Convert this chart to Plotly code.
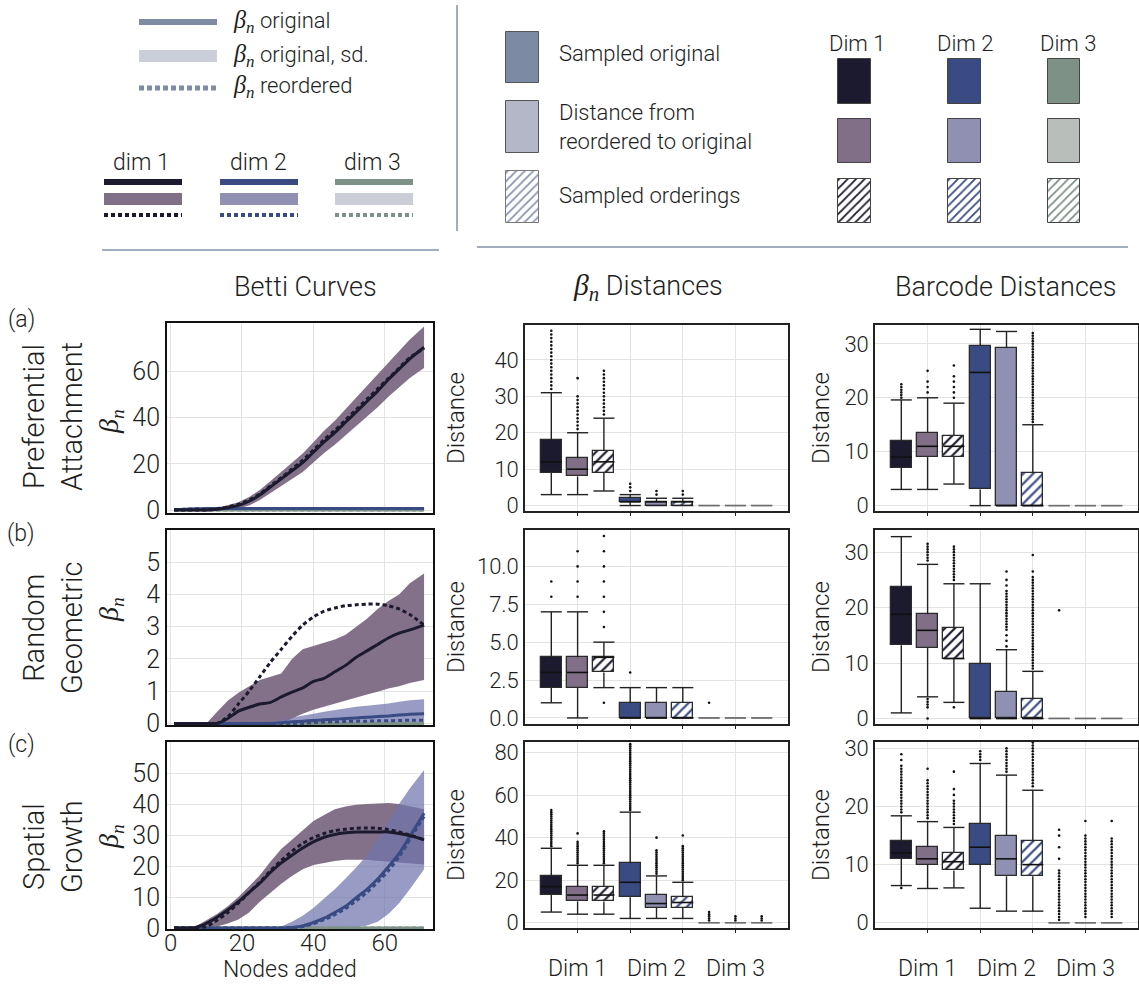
import plotly.graph_objects as go

W, H = 1139, 984
SANS = "Roboto"
WEIGHT = 300
BETA = "<span style='font-family:Liberation Serif;font-size:110%'><i>β<sub>n</sub></i></span>"

# ---------------------------------------------------------------- palette
DIM_LINE = ["#1c1a2e", "#394b82", "#7d9186"]
DIM_FILL = ["#806f86", "#8f90b2", "#b8beb9"]
BAND_FILL = ["rgba(127,108,134,0.97)", "rgba(112,116,172,0.72)", "rgba(203,206,214,0.9)"]
GRID = "#e3e3e3"

# ---------------------------------------------------------------- Betti curves
NODES = [1, 4, 7, 10, 13, 16, 19, 22, 25, 28, 31, 34, 37, 40, 43, 46, 49, 52, 55, 58, 61, 64, 67, 71]

# (a) preferential attachment
PA_D1_MEAN = [0, 0, 0, 0, 0.3, 1, 2, 3.8, 6.5, 10, 13.5, 17, 20.5, 25, 29.5, 33.5, 38, 42.5, 47, 51.5, 56.5, 61, 65.5, 70.5]
PA_D1_REORD = [0, 0, 0, 0, 0.4, 1.3, 2.5, 4.3, 7, 10.5, 14, 17.8, 21.5, 26, 30.5, 34.5, 39, 43.5, 48, 52.5, 57, 61.5, 66, 70]
PA_D1_LO = [0, 0, 0, 0, 0, 0, 0.6, 2, 4.3, 7.4, 10.5, 13.5, 16.5, 20.6, 24.7, 28.3, 32.3, 36.4, 40.5, 44.5, 49.1, 53.2, 57.2, 61.5]
PA_D1_HI = [0, 0, 0, 0.2, 0.9, 2, 3.4, 5.6, 8.7, 12.6, 16.5, 20.5, 24.5, 29.4, 34.3, 38.7, 43.7, 48.6, 53.5, 58.5, 63.9, 68.8, 73.8, 79.5]
PA_D2_MEAN = [0.1, 0.3, 0.5, 0.6, 0.7, 0.7, 0.7, 0.7, 0.7, 0.7, 0.7, 0.7, 0.7, 0.7, 0.7, 0.7, 0.7, 0.7, 0.7, 0.7, 0.7, 0.7, 0.7, 0.7]
PA_D2_REORD = [0.1, 0.3, 0.5, 0.6, 0.7, 0.7, 0.7, 0.7, 0.7, 0.7, 0.7, 0.7, 0.7, 0.7, 0.7, 0.7, 0.7, 0.7, 0.7, 0.7, 0.7, 0.7, 0.7, 0.7]
PA_D2_LO = [0, 0.1, 0.2, 0.3, 0.4, 0.4, 0.4, 0.4, 0.4, 0.4, 0.4, 0.4, 0.4, 0.4, 0.4, 0.4, 0.4, 0.4, 0.4, 0.4, 0.4, 0.4, 0.4, 0.4]
PA_D2_HI = [0.2, 0.5, 0.8, 0.9, 1.0, 1.0, 1.0, 1.0, 1.0, 1.0, 1.0, 1.0, 1.0, 1.0, 1.0, 1.0, 1.0, 1.0, 1.0, 1.0, 1.0, 1.0, 1.0, 1.0]
PA_D3 = [0, 0, 0, 0, 0, 0, 0, 0, 0, 0, 0, 0, 0, 0, 0, 0, 0, 0, 0, 0, 0, 0, 0, 0]

# (b) random geometric
RG_D1_MEAN = [0, 0, 0, 0, 0, 0.15, 0.38, 0.5, 0.6, 0.65, 0.82, 0.97, 1.1, 1.3, 1.4, 1.6, 1.8, 2.05, 2.25, 2.45, 2.65, 2.8, 2.9, 3.05]
RG_D1_REORD = [0, 0, 0, 0, 0, 0.2, 0.6, 1.0, 1.45, 1.9, 2.3, 2.7, 3.05, 3.3, 3.48, 3.58, 3.65, 3.68, 3.7, 3.7, 3.65, 3.55, 3.38, 3.05]
RG_D1_LO = [0, 0, 0, 0, 0, 0, 0, 0, 0, 0, 0, 0.15, 0.3, 0.42, 0.52, 0.62, 0.72, 0.8, 0.9, 0.98, 1.08, 1.15, 1.25, 1.35]
RG_D1_HI = [0, 0, 0, 0, 0.35, 0.7, 0.95, 1.15, 1.35, 1.45, 1.55, 2.0, 2.3, 2.4, 2.5, 2.6, 2.75, 3.0, 3.25, 3.55, 3.8, 4.0, 4.35, 4.65]
RG_D2_MEAN = [0, 0, 0, 0, 0, 0, 0, 0, 0, 0, 0.02, 0.05, 0.07, 0.09, 0.11, 0.13, 0.15, 0.17, 0.19, 0.21, 0.23, 0.26, 0.28, 0.3]
RG_D2_REORD = [0, 0, 0, 0, 0, 0, 0, 0, 0, 0, 0, 0, 0, 0.03, 0.04, 0.05, 0.06, 0.07, 0.07, 0.08, 0.08, 0.09, 0.1, 0.1]
RG_D2_LO = [0, 0, 0, 0, 0, 0, 0, 0, 0, 0, 0, 0, 0, 0, 0, 0, 0, 0, 0, 0, 0, 0, 0, 0]
RG_D2_HI = [0, 0, 0, 0, 0, 0, 0, 0, 0, 0.05, 0.1, 0.18, 0.25, 0.3, 0.36, 0.42, 0.48, 0.52, 0.55, 0.58, 0.62, 0.67, 0.72, 0.75]
RG_D3 = [0, 0, 0, 0, 0, 0, 0, 0, 0, 0, 0, 0, 0, 0, 0, 0, 0, 0, 0, 0, 0, 0, 0, 0]

# (c) spatial growth
SG_D1_MEAN = [0, 0, 0.2, 1.5, 3.5, 5.8, 8.5, 11.5, 14.5, 18, 21, 23.5, 25.8, 27.8, 29.3, 30.2, 30.7, 31, 31, 31, 31, 30.5, 29.8, 28.5]
SG_D1_REORD = [0, 0, 0, 0.5, 2.5, 5, 8, 11.5, 14.8, 18.5, 21.8, 24.8, 27.3, 29.2, 30.5, 31.4, 31.9, 32.2, 32.3, 32.2, 31.8, 31, 30, 28.5]
SG_D1_LO = [0, 0, 0, 0, 0.5, 1.5, 2.8, 5, 8.5, 11.5, 14.3, 16.8, 19, 20.3, 21, 21.6, 22, 22, 22, 21.7, 21.4, 21.1, 20.8, 20.5]
SG_D1_HI = [0, 0, 0.5, 2.5, 4.5, 7, 10, 13.5, 17, 21.5, 25.5, 28.5, 31.5, 34.5, 36.5, 38.3, 39.2, 39.8, 40, 40.2, 40.3, 40, 39.2, 38.3]
SG_D2_MEAN = [0, 0, 0, 0, 0, 0, 0, 0, 0, 0, 0, 0.2, 0.7, 1.8, 3.2, 5, 7, 9.8, 12.5, 15.8, 19.8, 24, 29.5, 37]
SG_D2_REORD = [0, 0, 0, 0, 0, 0, 0, 0, 0, 0, 0, 0.1, 0.5, 1.4, 2.7, 4.3, 6.3, 8.8, 11.5, 14.8, 18.5, 23, 28.5, 36]
SG_D2_LO = [0, 0, 0, 0, 0, 0, 0, 0, 0, 0, 0, 0, 0, 0, 0, 0, 0, 0.2, 0.8, 2, 4.5, 8, 12.5, 19]
SG_D2_HI = [0, 0, 0, 0, 0, 0, 0, 0, 0, 0, 0.5, 2, 4, 6.5, 9.5, 12.5, 16, 19.5, 23.5, 29, 34.5, 40, 45, 51]
SG_D3 = [0, 0, 0, 0, 0, 0, 0, 0, 0, 0, 0, 0, 0, 0, 0, 0, 0, 0, 0, 0, 0, 0, 0, 0]

# ---------------------------------------------------------------- box statistics
# slots: dim1 original, dim1 reordered-vs-original, dim1 sampled orderings, then dim2, dim3
DIM_LABELS = ["Dim 1", "Dim 2", "Dim 3"]
DIM_LABEL_SLOT = [2, 5, 8]

# beta_n distances
BD_A_Q1 = [9, 8, 9, 1, 0, 0, 0, 0, 0]
BD_A_MED = [12, 10, 12, 1, 1, 1, 0, 0, 0]
BD_A_Q3 = [18, 13, 15, 2, 1, 1, 0, 0, 0]
BD_A_LO = [3, 3, 4, 0, 0, 0, 0, 0, 0]
BD_A_HI = [31, 20, 24, 3, 2, 2, 0, 0, 0]
BD_A_OUT = [
    [32, 33, 34, 35, 36, 37, 38, 39, 40, 41, 42, 43, 44, 45, 46, 47, 48],
    [21, 22, 23, 24, 25, 26, 27, 28, 29, 30, 35],
    [25, 26, 27, 28, 29, 30, 31, 32, 33, 34, 35, 36, 37],
    [4, 5, 6], [3, 4], [3, 4], [], [], [],
]

BD_B_Q1 = [2, 2, 3, 0, 0, 0, 0, 0, 0]
BD_B_MED = [3, 3, 4, 0, 0, 0, 0, 0, 0]
BD_B_Q3 = [4, 4, 4, 1, 1, 1, 0, 0, 0]
BD_B_LO = [1, 0, 2, 0, 0, 0, 0, 0, 0]
BD_B_HI = [7, 7, 5, 2, 2, 2, 0, 0, 0]
BD_B_OUT = [
    [8, 9], [8, 9, 10, 11], [1, 6, 7, 8, 9, 10, 11, 12],
    [3], [], [], [1], [], [],
]

BD_C_Q1 = [13, 10, 10, 12, 7, 7, 0, 0, 0]
BD_C_MED = [17, 13, 13, 19, 9, 9.5, 0, 0, 0]
BD_C_Q3 = [22, 17, 17, 28, 13, 12, 0, 0, 0]
BD_C_LO = [5, 4, 4, 2, 2, 2, 0, 0, 0]
BD_C_HI = [35, 27, 27, 52, 22, 19, 0, 0, 0]
BD_C_OUT = [
    [36, 37, 38, 39, 40, 41, 42, 43, 44, 45, 46, 47, 48, 49, 50, 51, 52, 53],
    [28, 29, 30, 31, 32, 33, 34, 35, 36, 37, 38, 42],
    [28, 29, 30, 31, 32, 33, 34, 35, 36, 37, 38, 39, 40, 41, 42, 43],
    [53, 54, 55, 56, 57, 58, 59, 60, 61, 62, 63, 64, 65, 66, 67, 68, 69, 70, 71, 72, 73, 74, 75, 76, 77, 78, 79, 80, 81, 82, 83, 84],
    [23, 24, 25, 26, 27, 28, 29, 30, 31, 32, 33, 34, 40],
    [20, 21, 22, 23, 24, 25, 26, 27, 28, 29, 30, 31, 32, 33, 34, 35, 36, 41],
    [1, 2, 3, 4, 5], [1, 2, 3], [1, 2, 3],
]

# barcode distances
BC_A_Q1 = [7, 9, 9, 3, 0, 0, 0, 0, 0]
BC_A_MED = [9, 11, 11, 24.7, 0, 0, 0, 0, 0]
BC_A_Q3 = [12, 13.5, 13, 29.6, 29.2, 6, 0, 0, 0]
BC_A_LO = [3, 3, 4, 0, 0, 0, 0, 0, 0]
BC_A_HI = [19.6, 20, 19, 32.7, 32.3, 15, 0, 0, 0]
BC_A_OUT = [
    [20, 20.5, 21, 21.5, 22, 22.5],
    [21, 22, 23, 25],
    [20, 21, 22, 23, 24, 26],
    [], [],
    [15.5, 16, 16.5, 17, 17.5, 18, 18.5, 19, 19.5, 20, 20.5, 21, 21.5, 22, 22.5, 23, 23.5, 24, 24.5,
     25, 25.5, 26, 26.5, 27, 27.5, 28, 28.5, 29, 29.5, 30, 30.5, 31, 31.5, 32],
    [], [], [],
]

BC_B_Q1 = [13.2, 12.8, 10.8, 0, 0, 0, 0, 0, 0]
BC_B_MED = [18.8, 15.9, 10.8, 0, 0, 0, 0, 0, 0]
BC_B_Q3 = [23.8, 18.8, 16.3, 9.8, 4.8, 3.6, 0, 0, 0]
BC_B_LO = [1, 3.9, 2.9, 0, 0, 0, 0, 0, 0]
BC_B_HI = [32.8, 27.8, 24.3, 24.3, 12.4, 8.5, 0, 0, 0]
BC_B_OUT = [
    [],
    [28.5, 29, 29.5, 30, 30.5, 31, 31.5, 3.5, 3, 2.5, 2, 0],
    [25, 25.5, 26, 26.5, 27, 27.5, 28, 28.5, 29, 29.5, 30, 30.5, 31, 2],
    [],
    [13, 14, 15, 16, 16.5, 17, 17.5, 18, 18.5, 19, 19.5, 20, 20.5, 21, 21.5, 22, 22.5, 23, 24, 25, 26.5],
    [9, 9.5, 10, 10.5, 11, 11.5, 12, 12.5, 13, 13.5, 14, 14.5, 15, 15.5, 16, 16.5, 17, 17.5, 18, 18.5,
     19, 19.5, 20, 20.5, 21, 21.5, 22, 22.5, 23, 23.5, 24, 24.5, 25, 25.5, 26.5, 29.5],
    [19.5], [], [],
]

BC_C_Q1 = [11, 10, 9, 10, 8, 8, 0, 0, 0]
BC_C_MED = [12, 11, 10.5, 13, 11, 10, 0, 0, 0]
BC_C_Q3 = [14, 13, 12, 17, 15, 14, 0, 0, 0]
BC_C_LO = [6.4, 5.9, 6, 2.5, 2, 2, 0, 0, 0]
BC_C_HI = [18.4, 17.4, 16.4, 27.4, 25.4, 22.8, 0, 0, 0]
BC_C_OUT = [
    [6, 19, 19.5, 20, 20.5, 21, 21.5, 22, 22.5, 23, 23.5, 24, 24.5, 25, 25.5, 26, 26.5, 27, 28, 29],
    [18, 18.5, 19, 19.5, 20, 20.5, 21, 21.5, 22, 22.5, 23, 23.5, 24, 24.5, 26.5],
    [17, 17.5, 18, 18.5, 19, 19.5, 20, 20.5, 21, 22, 23, 26],
    [28, 28.5, 29, 29.5],
    [26, 26.5, 27, 27.5, 28, 28.5, 29, 29.5, 30],
    [23.5, 24, 24.5, 25, 25.5, 26, 26.5, 27, 27.5, 28, 28.5, 29, 29.5, 30, 30.5, 31],
    [0.5, 1, 1.5, 2, 2.5, 3, 3.5, 4, 4.5, 5, 5.5, 6, 6.5, 7, 7.5, 8, 8.5, 9, 11, 13, 15, 16],
    [1, 1.5, 2, 2.5, 3, 3.5, 4, 4.5, 5, 5.5, 6, 6.5, 7, 7.5, 8, 8.5, 9, 9.5, 10, 10.5, 11, 11.5, 12,
     12.5, 13, 13.5, 14, 14.5, 15, 17.5],
    [1, 1.5, 2, 2.5, 3, 3.5, 4, 4.5, 5, 5.5, 6, 6.5, 7, 7.5, 8, 8.5, 9, 9.5, 10, 10.5, 11, 11.5, 12,
     12.5, 13, 13.5, 14, 14.5, 17.5],
]

ROW_NAMES = ["Preferential<br>Attachment", "Random<br>Geometric", "Spatial<br>Growth"]
ROW_TAGS = ["(a)", "(b)", "(c)"]

# ---------------------------------------------------------------- panel geometry (pixels)
BETTI_X = (167, 433)
MID_X = (525, 788)
RIGHT_X = (875, 1138)
BETTI_ROWS_PX = [(323, 513), (530, 725), (742, 929)]
BOX_ROWS_PX = [(325, 511), (530, 724), (742, 928)]


def xdom(px):
    return [px[0] / W, px[1] / W]


def ydom(px):
    return [1 - px[1] / H, 1 - px[0] / H]


betti_panels = [
    dict(mean=[PA_D1_MEAN, PA_D2_MEAN, PA_D3], reord=[PA_D1_REORD, PA_D2_REORD, PA_D3],
         lo=[PA_D1_LO, PA_D2_LO, PA_D3], hi=[PA_D1_HI, PA_D2_HI, PA_D3],
         yrange=[-1.3, 81], ticks=[0, 20, 40, 60]),
    dict(mean=[RG_D1_MEAN, RG_D2_MEAN, RG_D3], reord=[RG_D1_REORD, RG_D2_REORD, RG_D3],
         lo=[RG_D1_LO, RG_D2_LO, RG_D3], hi=[RG_D1_HI, RG_D2_HI, RG_D3],
         yrange=[-0.05, 6.0], ticks=[0, 1, 2, 3, 4, 5]),
    dict(mean=[SG_D1_MEAN, SG_D2_MEAN, SG_D3], reord=[SG_D1_REORD, SG_D2_REORD, SG_D3],
         lo=[SG_D1_LO, SG_D2_LO, SG_D3], hi=[SG_D1_HI, SG_D2_HI, SG_D3],
         yrange=[-0.3, 60], ticks=[0, 10, 20, 30, 40, 50]),
]

mid_panels = [
    dict(q1=BD_A_Q1, med=BD_A_MED, q3=BD_A_Q3, lo=BD_A_LO, hi=BD_A_HI, out=BD_A_OUT,
         yrange=[-1.5, 49.6], ticks=[0, 10, 20, 30, 40], fmt=""),
    dict(q1=BD_B_Q1, med=BD_B_MED, q3=BD_B_Q3, lo=BD_B_LO, hi=BD_B_HI, out=BD_B_OUT,
         yrange=[-0.4, 12.4], ticks=[0, 2.5, 5, 7.5, 10], fmt=".1f"),
    dict(q1=BD_C_Q1, med=BD_C_MED, q3=BD_C_Q3, lo=BD_C_LO, hi=BD_C_HI, out=BD_C_OUT,
         yrange=[-2.5, 85], ticks=[0, 20, 40, 60, 80], fmt=""),
]
right_panels = [
    dict(q1=BC_A_Q1, med=BC_A_MED, q3=BC_A_Q3, lo=BC_A_LO, hi=BC_A_HI, out=BC_A_OUT,
         yrange=[-1, 33.5], ticks=[0, 10, 20, 30], fmt=""),
    dict(q1=BC_B_Q1, med=BC_B_MED, q3=BC_B_Q3, lo=BC_B_LO, hi=BC_B_HI, out=BC_B_OUT,
         yrange=[-1, 34], ticks=[0, 10, 20, 30], fmt=""),
    dict(q1=BC_C_Q1, med=BC_C_MED, q3=BC_C_Q3, lo=BC_C_LO, hi=BC_C_HI, out=BC_C_OUT,
         yrange=[-0.9, 31.1], ticks=[0, 10, 20, 30], fmt=""),
]

SLOT_COLOR = [DIM_LINE[0], DIM_FILL[0], "white", DIM_LINE[1], DIM_FILL[1], "white",
              DIM_LINE[2], DIM_FILL[2], "white"]
SLOT_HATCH = [None, None, DIM_LINE[0], None, None, DIM_LINE[1], None, None, DIM_LINE[2]]

fig = go.Figure()
layout_axes = {}


def axis_names(idx):
    s = "" if idx == 1 else str(idx)
    return "x" + s, "y" + s, "xaxis" + s, "yaxis" + s


def tfont(size):
    return dict(size=size, family=SANS, color="#1e1e1e", weight=WEIGHT)


# ---------------------------------------------------------------- Betti curve panels
for r, panel in enumerate(betti_panels):
    idx = r * 3 + 1
    xa, ya, xk, yk = axis_names(idx)
    for d in range(3):
        fig.add_trace(go.Scatter(x=NODES, y=panel["lo"][d], mode="lines", line=dict(width=0),
                                 xaxis=xa, yaxis=ya, hoverinfo="skip"))
        fig.add_trace(go.Scatter(x=NODES, y=panel["hi"][d], mode="lines", line=dict(width=0),
                                 fill="tonexty", fillcolor=BAND_FILL[d],
                                 xaxis=xa, yaxis=ya, hoverinfo="skip"))
    for d in (2, 1, 0):
        fig.add_trace(go.Scatter(x=NODES, y=panel["mean"][d], mode="lines",
                                 line=dict(color=DIM_LINE[d], width=3, shape="spline", smoothing=0.6),
                                 xaxis=xa, yaxis=ya, hoverinfo="skip"))
        fig.add_trace(go.Scatter(x=NODES, y=panel["reord"][d], mode="lines",
                                 line=dict(color=DIM_LINE[d], width=3, dash="4px,3px",
                                           shape="spline", smoothing=0.6),
                                 xaxis=xa, yaxis=ya, hoverinfo="skip"))
    layout_axes[xk] = dict(domain=xdom(BETTI_X), anchor=ya, range=[-1, 73.5],
                           tickvals=[0, 20, 40, 60], showticklabels=(r == 2),
                           showgrid=True, gridcolor=GRID, zeroline=False, automargin=False,
                           showline=True, mirror=True, linecolor="#111", linewidth=2,
                           tickfont=tfont(24), ticks="", ticklabelstandoff=-9)
    layout_axes[yk] = dict(domain=ydom(BETTI_ROWS_PX[r]), anchor=xa, range=panel["yrange"],
                           tickvals=panel["ticks"], showgrid=True, gridcolor=GRID, zeroline=False,
                           showline=True, mirror=True, linecolor="#111", linewidth=2,
                           automargin=False, tickfont=tfont(25), ticks="")


# ---------------------------------------------------------------- box panels
def add_boxes(panel, xa, ya):
    half = 0.4
    out_x, out_y = [], []
    for i in range(9):
        pos = i + 1
        q1, med, q3 = panel["q1"][i], panel["med"][i], panel["q3"][i]
        lo, hi = panel["lo"][i], panel["hi"][i]
        flat = (q3 == q1 and hi == lo)
        if q3 > q1:
            if SLOT_HATCH[i]:
                marker = dict(color="white", line=dict(color="#2b2b2b", width=1.3),
                              pattern=dict(shape="/", fgcolor=SLOT_HATCH[i], bgcolor="white",
                                           size=7, solidity=0.32, fillmode="replace"))
            else:
                marker = dict(color=SLOT_COLOR[i], line=dict(color="#2b2b2b", width=1.3))
            fig.add_trace(go.Bar(x=[pos], y=[q3 - q1], base=[q1], width=0.8, marker=marker,
                                 xaxis=xa, yaxis=ya, hoverinfo="skip"))
        wx = [pos, pos, None, pos, pos, None, pos - half, pos + half, None, pos - half, pos + half]
        wy = [lo, q1, None, q3, hi, None, lo, lo, None, hi, hi]
        fig.add_trace(go.Scatter(x=wx, y=wy, mode="lines",
                                 line=dict(color="#6e6e6e" if flat else "#222", width=1.4),
                                 xaxis=xa, yaxis=ya, hoverinfo="skip", cliponaxis=False))
        if not flat:
            fig.add_trace(go.Scatter(x=[pos - half, pos + half], y=[med, med], mode="lines",
                                     line=dict(color="#111", width=1.6),
                                     xaxis=xa, yaxis=ya, hoverinfo="skip"))
        out_x += [pos] * len(panel["out"][i])
        out_y += panel["out"][i]
    fig.add_trace(go.Scatter(x=out_x, y=out_y, mode="markers",
                             marker=dict(color="#111", size=2.6, line=dict(width=0)),
                             xaxis=xa, yaxis=ya, hoverinfo="skip"))


for c, (panels, xpx) in enumerate([(mid_panels, MID_X), (right_panels, RIGHT_X)]):
    for r, panel in enumerate(panels):
        idx = r * 3 + c + 2
        xa, ya, xk, yk = axis_names(idx)
        add_boxes(panel, xa, ya)
        layout_axes[xk] = dict(domain=xdom(xpx), anchor=ya, range=[0, 10],
                               tickvals=[2, 4, 6, 8], showticklabels=False,
                               showgrid=True, gridcolor=GRID, zeroline=False, automargin=False,
                               showline=True, mirror=True, linecolor="#222", linewidth=1.6,
                               ticks="outside", ticklen=3, tickcolor="#222")
        layout_axes[yk] = dict(domain=ydom(BOX_ROWS_PX[r]), anchor=xa, range=panel["yrange"],
                               tickvals=panel["ticks"], tickformat=panel["fmt"],
                               showgrid=True, gridcolor=GRID, zeroline=False, automargin=False,
                               showline=True, mirror=True, linecolor="#222", linewidth=1.6,
                               tickfont=tfont(22), ticks="")

# ---------------------------------------------------------------- header key (pixel overlay axis)
layout_axes["xaxis10"] = dict(domain=[0, 1], range=[0, W], visible=False, anchor="y10",
                              fixedrange=True, automargin=False)
layout_axes["yaxis10"] = dict(domain=[0, 1], range=[H, 0], visible=False, anchor="x10",
                              fixedrange=True, automargin=False)

KEY_SWATCH_X = [(838, 871), (948, 981), (1048, 1080)]
KEY_SWATCH_Y = [(59, 104), (119, 163), (179, 223)]
for d in range(3):
    x0, x1 = KEY_SWATCH_X[d]
    fills = [DIM_LINE[d], DIM_FILL[d], None]
    for k in range(3):
        y0, y1 = KEY_SWATCH_Y[k]
        if fills[k]:
            marker = dict(color=fills[k], line=dict(color="#444", width=1))
        else:
            marker = dict(color="white", line=dict(color="#444", width=1),
                          pattern=dict(shape="/", fgcolor=DIM_LINE[d], bgcolor="white",
                                       size=6, solidity=0.3, fillmode="replace"))
        fig.add_trace(go.Bar(x=[(x0 + x1) / 2], y=[y1 - y0], base=[y0], width=x1 - x0,
                             marker=marker, xaxis="x10", yaxis="y10", hoverinfo="skip"))

KEY_KIND_Y = [(32, 83), (101, 153), (171, 223)]
KEY_KIND_FILL = ["#7d8aa3", "#b3b7c8", None]
for k in range(3):
    y0, y1 = KEY_KIND_Y[k]
    if KEY_KIND_FILL[k]:
        marker = dict(color=KEY_KIND_FILL[k], line=dict(color="#555", width=1))
    else:
        marker = dict(color="white", line=dict(color="#777", width=1),
                      pattern=dict(shape="/", fgcolor="#8a94b0", bgcolor="white",
                                   size=6, solidity=0.3, fillmode="replace"))
    fig.add_trace(go.Bar(x=[522], y=[y1 - y0], base=[y0], width=33, marker=marker,
                         xaxis="x10", yaxis="y10", hoverinfo="skip"))

shapes = []


def seg(x0, x1, y, color, width, dash="solid"):
    shapes.append(dict(type="line", xref="x10", yref="y10", x0=x0, x1=x1, y0=y, y1=y,
                       line=dict(color=color, width=width, dash=dash)))


seg(139, 217, 22, "#7f8aa3", 6)
seg(139, 217, 56, "#cbced8", 12)
seg(139, 217, 88, "#7f8aa3", 5, "5px,3px")
KEY_LINE_X = [(104, 182), (220, 298), (335, 413)]
KEY_SD = ["#806f86", "#8f90b2", "#cbced6"]
for d in range(3):
    x0, x1 = KEY_LINE_X[d]
    seg(x0, x1, 182, DIM_LINE[d], 6)
    seg(x0, x1, 199, KEY_SD[d], 12)
    seg(x0, x1, 215, DIM_LINE[d], 4, "4px,3px")
seg(102, 439, 250, "#8492ab", 1.5)
seg(477, 1128, 247, "#8492ab", 1.5)
shapes.append(dict(type="line", xref="x10", yref="y10", x0=457, x1=457, y0=5, y1=231,
                   line=dict(color="#8492ab", width=1.5)))

annotations = []


def text(x, y, s, size, xanchor="center", angle=0, xref="x10", yref="y10", font=SANS, align="center"):
    annotations.append(dict(x=x, y=y, xref=xref, yref=yref, text=s, showarrow=False,
                            xanchor=xanchor, yanchor="middle", textangle=angle, align=align,
                            font=dict(size=size, family=font, color="#1e1e1e", weight=WEIGHT)))


text(231, 21, BETA + " original", 22, "left")
text(231, 55, BETA + " original, sd.", 22, "left")
text(231, 86, BETA + " reordered", 22, "left")
for d, cx in enumerate([141, 258, 372]):
    text(cx, 162, "dim %d" % (d + 1), 23)
text(557, 53, "Sampled original", 22, "left")
text(557, 127, "Distance from<br>reordered to original", 22, "left", align="left")
text(557, 195, "Sampled orderings", 22, "left")
for d, cx in enumerate([857, 965, 1068]):
    text(cx, 43, DIM_LABELS[d], 22)

# column titles
text(305, 287, "Betti Curves", 27)
text(648, 287, BETA + " Distances", 27)
text(1006, 287, "Barcode Distances", 27)

# row labels
ROW_TAG_Y = [319, 533, 744]
ROW_NAME_Y = [417, 628, 847]
ROW_BETA_Y = [422, 610, 837]
for r in range(3):
    text(21, ROW_TAG_Y[r], ROW_TAGS[r], 23)
    text(53, ROW_NAME_Y[r], ROW_NAMES[r], 29, angle=-90)
    text(110, ROW_BETA_Y[r], "<i>β<sub>n</sub></i>", 28, angle=-90, font="Liberation Serif")
    row_mid = (BOX_ROWS_PX[r][0] + BOX_ROWS_PX[r][1]) / 2
    text(456, row_mid, "Distance", 24, angle=-90)
    text(821, row_mid, "Distance", 24, angle=-90)

text(290, 969, "Nodes added", 23)
for c, xa in enumerate(["x8", "x9"]):
    for d in range(3):
        text(DIM_LABEL_SLOT[d], 968, DIM_LABELS[d], 23, xref=xa)

fig.update_layout(
    width=W, height=H, margin=dict(l=0, r=0, t=0, b=0, pad=0, autoexpand=False),
    paper_bgcolor="white", plot_bgcolor="rgba(0,0,0,0)",
    showlegend=False, barmode="overlay", bargap=0,
    font=dict(family=SANS, color="#1e1e1e", weight=WEIGHT),
    shapes=shapes, annotations=annotations,
    **layout_axes,
)

fig.write_html("out.html")
